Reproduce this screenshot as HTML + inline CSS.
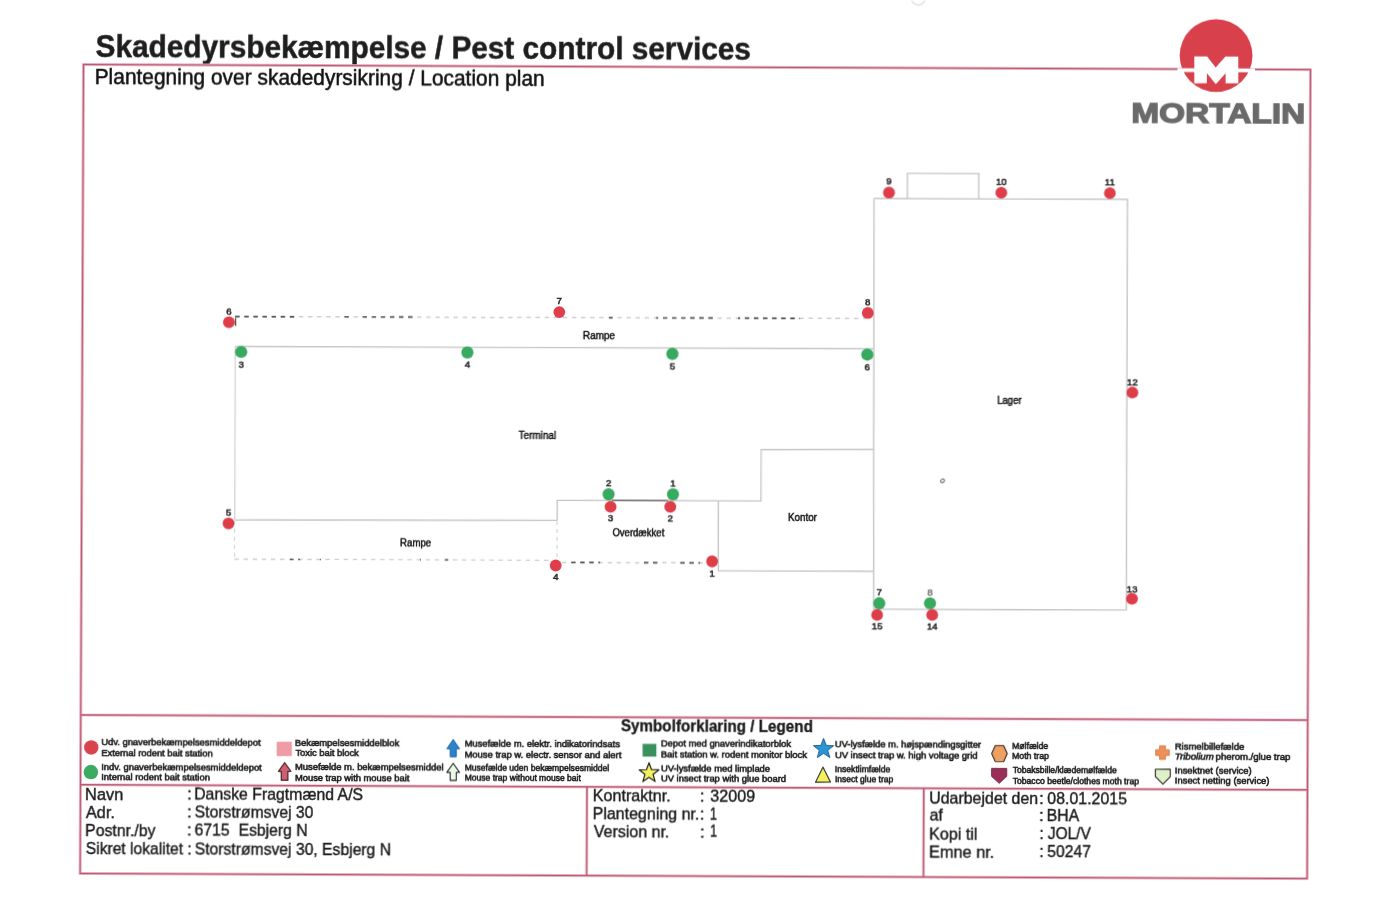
<!DOCTYPE html>
<html><head><meta charset="utf-8"><title>Skadedyrsbekæmpelse - Location plan</title>
<style>
html,body{margin:0;padding:0;background:#fff;}
body{width:1400px;height:909px;overflow:hidden;position:relative;}
#pg{position:absolute;left:0;top:0;width:1400px;height:909px;transform:rotate(0.24deg);transform-origin:83.5px 64.5px;will-change:transform;}
svg{position:absolute;left:0;top:0;overflow:visible;}
text{font-family:"Liberation Sans", sans-serif;}
</style></head>
<body><div id="pg"><svg width="1400" height="909" viewBox="0 0 1400 909">
<text x="95.61" y="57.15" font-size="32.0" font-weight="700" text-anchor="start" fill="#1e1e1e" textLength="655.28" lengthAdjust="spacingAndGlyphs" stroke="#1e1e1e" stroke-width="0.5">Skadedyrsbekæmpelse / Pest control services</text>
<text x="94.67" y="84.45" font-size="21.3" font-weight="400" text-anchor="start" fill="#111" textLength="450.07" lengthAdjust="spacingAndGlyphs" stroke="#111" stroke-width="0.5">Plantegning over skadedyrsikring / Location plan</text>
<rect x="83.5" y="64.5" width="1227.0" height="809.0" fill="none" stroke="#f8c6d2" stroke-width="2.9"/>
<line x1="83.5" y1="715.0" x2="1310.5" y2="715.0" stroke="#f8c6d2" stroke-width="2.9"/>
<line x1="83.5" y1="784.8" x2="1310.5" y2="784.8" stroke="#f8c6d2" stroke-width="2.9"/>
<line x1="590" y1="784.8" x2="590" y2="873.5" stroke="#f8c6d2" stroke-width="2.9"/>
<line x1="926.8" y1="784.8" x2="926.8" y2="873.5" stroke="#f8c6d2" stroke-width="2.9"/>
<rect x="83.5" y="64.5" width="1227.0" height="809.0" fill="none" stroke="#b65a72" stroke-width="1.5"/>
<line x1="83.5" y1="715.0" x2="1310.5" y2="715.0" stroke="#b65a72" stroke-width="1.5"/>
<line x1="83.5" y1="784.8" x2="1310.5" y2="784.8" stroke="#b65a72" stroke-width="1.5"/>
<line x1="590" y1="784.8" x2="590" y2="873.5" stroke="#b65a72" stroke-width="1.5"/>
<line x1="926.8" y1="784.8" x2="926.8" y2="873.5" stroke="#b65a72" stroke-width="1.5"/>
<circle cx="1216.05" cy="50.86" r="36.4" fill="#d8404c"/>
<rect x="1177.51" y="63.62" width="77.5" height="3.8" fill="#fff"/>
<polygon points="1194.26,51.85 1207.06,51.79 1215.7,62.66 1225.36,51.72 1238.26,51.66 1238.37,78.46 1225.67,78.52 1225.63,68.42 1215.87,79.46 1206.93,68.49 1206.97,78.59 1194.37,78.65" fill="#fff" stroke="none" stroke-width="1" stroke-linejoin="round"/>
<text x="1131.43" y="118.41" font-size="28.3" font-weight="700" text-anchor="start" fill="#6a6a6a" textLength="174.03" lengthAdjust="spacingAndGlyphs" stroke="#6a6a6a" stroke-width="1.3">MORTALIN</text>
<line x1="236.48" y1="345.76" x2="874.88" y2="345.49" stroke="#c6c6c6" stroke-width="1.4"/>
<line x1="236.48" y1="345.76" x2="236.61" y2="519.36" stroke="#d2d2d2" stroke-width="1.3"/>
<line x1="236.61" y1="519.36" x2="559.11" y2="518.41" stroke="#c6c6c6" stroke-width="1.4"/>
<polyline points="559.11,518.41 559.12,498.41 762.82,498.06 762.81,446.76 875.21,446.29" fill="none" stroke="#c6c6c6" stroke-width="1.4" stroke-linejoin="miter"/>
<line x1="613.82" y1="498.28" x2="669.82" y2="498.25" stroke="#6e6e6e" stroke-width="1.5"/>
<polyline points="720.22,498.14 720.42,568.14 875.72,567.99" fill="none" stroke="#c6c6c6" stroke-width="1.4" stroke-linejoin="miter"/>
<polyline points="874.55,195.29 1128.06,195.03 1128.58,605.63 875.87,605.89 874.55,195.29" fill="none" stroke="#c6c6c6" stroke-width="1.4" stroke-linejoin="miter"/>
<polyline points="907.95,195.25 907.85,169.85 979.25,169.85 979.36,195.25" fill="none" stroke="#c6c6c6" stroke-width="1.4" stroke-linejoin="miter"/>
<line x1="236.25" y1="315.86" x2="867.06" y2="315.32" stroke="#cfcfcf" stroke-width="1.5" stroke-dasharray="4.4 4.7" stroke-dashoffset="0"/>
<line x1="236.25" y1="315.86" x2="296.05" y2="315.81" stroke="#555" stroke-width="1.7" stroke-dasharray="4.4 4.7" stroke-dashoffset="0"/>
<line x1="345.05" y1="315.77" x2="353.05" y2="315.76" stroke="#555" stroke-width="1.7" stroke-dasharray="4.4 4.7" stroke-dashoffset="108.8"/>
<line x1="363.05" y1="315.75" x2="414.06" y2="315.71" stroke="#555" stroke-width="1.7" stroke-dasharray="4.4 4.7" stroke-dashoffset="126.8"/>
<line x1="610.06" y1="315.54" x2="616.06" y2="315.54" stroke="#555" stroke-width="1.7" stroke-dasharray="4.4 4.7" stroke-dashoffset="373.8"/>
<line x1="657.06" y1="315.5" x2="718.06" y2="315.45" stroke="#555" stroke-width="1.7" stroke-dasharray="4.4 4.7" stroke-dashoffset="420.8"/>
<line x1="739.06" y1="315.43" x2="801.06" y2="315.38" stroke="#555" stroke-width="1.7" stroke-dasharray="4.4 4.7" stroke-dashoffset="502.8"/>
<line x1="832.06" y1="315.35" x2="837.06" y2="315.35" stroke="#555" stroke-width="1.7" stroke-dasharray="4.4 4.7" stroke-dashoffset="595.8"/>
<line x1="236.51" y1="520.36" x2="236.57" y2="558.36" stroke="#d6d6d6" stroke-width="1.2" stroke-dasharray="4 4" stroke-dashoffset="0"/>
<line x1="236.57" y1="558.46" x2="552.07" y2="558.34" stroke="#cfcfcf" stroke-width="1.4" stroke-dasharray="4.4 4.7" stroke-dashoffset="0"/>
<line x1="292.07" y1="558.44" x2="302.07" y2="558.44" stroke="#555" stroke-width="1.5999999999999999" stroke-dasharray="4.4 4.7" stroke-dashoffset="55.5"/>
<line x1="322.07" y1="558.43" x2="327.07" y2="558.43" stroke="#555" stroke-width="1.5999999999999999" stroke-dasharray="4.4 4.7" stroke-dashoffset="85.5"/>
<line x1="422.07" y1="558.39" x2="427.07" y2="558.39" stroke="#555" stroke-width="1.5999999999999999" stroke-dasharray="4.4 4.7" stroke-dashoffset="185.5"/>
<line x1="447.07" y1="558.38" x2="452.07" y2="558.38" stroke="#555" stroke-width="1.5999999999999999" stroke-dasharray="4.4 4.7" stroke-dashoffset="210.5"/>
<line x1="559.01" y1="519.01" x2="559.06" y2="555.01" stroke="#d6d6d6" stroke-width="1.2" stroke-dasharray="4 4" stroke-dashoffset="0"/>
<line x1="564.08" y1="560.49" x2="708.08" y2="560.29" stroke="#cfcfcf" stroke-width="1.5" stroke-dasharray="4.4 4.7" stroke-dashoffset="0"/>
<line x1="572.08" y1="560.48" x2="602.08" y2="560.44" stroke="#555" stroke-width="1.7" stroke-dasharray="4.4 4.7" stroke-dashoffset="8"/>
<line x1="642.08" y1="560.38" x2="662.08" y2="560.35" stroke="#555" stroke-width="1.7" stroke-dasharray="4.4 4.7" stroke-dashoffset="78"/>
<line x1="682.08" y1="560.32" x2="702.08" y2="560.3" stroke="#555" stroke-width="1.7" stroke-dasharray="4.4 4.7" stroke-dashoffset="118"/>
<line x1="236.66" y1="317.36" x2="236.69" y2="325.36" stroke="#333" stroke-width="1.1"/>
<circle cx="242.4" cy="351.24" r="6.1" fill="#37aa60"/>
<circle cx="468.6" cy="350.89" r="6.1" fill="#37aa60"/>
<circle cx="673.61" cy="351.33" r="6.1" fill="#37aa60"/>
<circle cx="868.51" cy="351.31" r="6.1" fill="#37aa60"/>
<circle cx="610.4" cy="492.1" r="6.1" fill="#37aa60"/>
<circle cx="674.8" cy="491.83" r="6.1" fill="#37aa60"/>
<circle cx="881.55" cy="599.96" r="6.1" fill="#37aa60"/>
<circle cx="932.25" cy="599.75" r="6.1" fill="#37aa60"/>
<circle cx="229.98" cy="321.69" r="5.9" fill="#de3e4a"/>
<circle cx="560.33" cy="310.1" r="5.9" fill="#de3e4a"/>
<circle cx="868.83" cy="309.71" r="5.9" fill="#de3e4a"/>
<circle cx="230.42" cy="522.79" r="5.9" fill="#de3e4a"/>
<circle cx="557.79" cy="563.52" r="5.9" fill="#de3e4a"/>
<circle cx="714.18" cy="558.76" r="5.9" fill="#de3e4a"/>
<circle cx="612.45" cy="504.69" r="5.9" fill="#de3e4a"/>
<circle cx="672.15" cy="504.44" r="5.9" fill="#de3e4a"/>
<circle cx="889.53" cy="189.22" r="5.9" fill="#de3e4a"/>
<circle cx="1001.83" cy="188.95" r="5.9" fill="#de3e4a"/>
<circle cx="1110.43" cy="188.9" r="5.9" fill="#de3e4a"/>
<circle cx="1133.77" cy="388.2" r="5.9" fill="#de3e4a"/>
<circle cx="1134.23" cy="594.3" r="5.9" fill="#de3e4a"/>
<circle cx="879.4" cy="611.67" r="5.9" fill="#de3e4a"/>
<circle cx="934.5" cy="611.44" r="5.9" fill="#de3e4a"/>
<text x="229.95" y="313.79" font-size="9.7" font-weight="400" text-anchor="middle" fill="#1c1c1c" stroke="#1c1c1c" stroke-width="0.5">6</text>
<text x="560.3" y="301.6" font-size="9.7" font-weight="400" text-anchor="middle" fill="#1c1c1c" stroke="#1c1c1c" stroke-width="0.5">7</text>
<text x="868.8" y="302.21" font-size="9.7" font-weight="400" text-anchor="middle" fill="#1c1c1c" stroke="#1c1c1c" stroke-width="0.5">8</text>
<text x="230.39" y="514.99" font-size="9.7" font-weight="400" text-anchor="middle" fill="#1c1c1c" stroke="#1c1c1c" stroke-width="0.5">5</text>
<text x="557.86" y="578.42" font-size="9.7" font-weight="400" text-anchor="middle" fill="#1c1c1c" stroke="#1c1c1c" stroke-width="0.5">4</text>
<text x="714.24" y="573.86" font-size="9.7" font-weight="400" text-anchor="middle" fill="#1c1c1c" stroke="#1c1c1c" stroke-width="0.5">1</text>
<text x="612.51" y="519.09" font-size="9.7" font-weight="400" text-anchor="middle" fill="#1c1c1c" stroke="#1c1c1c" stroke-width="0.5">3</text>
<text x="672.21" y="518.84" font-size="9.7" font-weight="400" text-anchor="middle" fill="#1c1c1c" stroke="#1c1c1c" stroke-width="0.5">2</text>
<text x="889.5" y="181.02" font-size="9.7" font-weight="400" text-anchor="middle" fill="#1c1c1c" stroke="#1c1c1c" stroke-width="0.5">9</text>
<text x="1001.8" y="181.15" font-size="9.7" font-weight="400" text-anchor="middle" fill="#1c1c1c" stroke="#1c1c1c" stroke-width="0.5">10</text>
<text x="1110.4" y="181.3" font-size="9.7" font-weight="400" text-anchor="middle" fill="#1c1c1c" stroke="#1c1c1c" stroke-width="0.5">11</text>
<text x="1133.73" y="380.8" font-size="9.7" font-weight="400" text-anchor="middle" fill="#1c1c1c" stroke="#1c1c1c" stroke-width="0.5">12</text>
<text x="1134.2" y="587.7" font-size="9.7" font-weight="400" text-anchor="middle" fill="#1c1c1c" stroke="#1c1c1c" stroke-width="0.5">13</text>
<text x="879.46" y="626.07" font-size="9.7" font-weight="400" text-anchor="middle" fill="#1c1c1c" stroke="#1c1c1c" stroke-width="0.5">15</text>
<text x="934.56" y="625.84" font-size="9.7" font-weight="400" text-anchor="middle" fill="#1c1c1c" stroke="#1c1c1c" stroke-width="0.5">14</text>
<text x="242.47" y="366.84" font-size="9.7" font-weight="400" text-anchor="middle" fill="#1c1c1c" stroke="#1c1c1c" stroke-width="0.5">3</text>
<text x="468.66" y="365.59" font-size="9.7" font-weight="400" text-anchor="middle" fill="#1c1c1c" stroke="#1c1c1c" stroke-width="0.5">4</text>
<text x="673.67" y="366.53" font-size="9.7" font-weight="400" text-anchor="middle" fill="#1c1c1c" stroke="#1c1c1c" stroke-width="0.5">5</text>
<text x="868.57" y="366.71" font-size="9.7" font-weight="400" text-anchor="middle" fill="#1c1c1c" stroke="#1c1c1c" stroke-width="0.5">6</text>
<text x="610.36" y="484.4" font-size="9.7" font-weight="400" text-anchor="middle" fill="#1c1c1c" stroke="#1c1c1c" stroke-width="0.5">2</text>
<text x="674.76" y="484.13" font-size="9.7" font-weight="400" text-anchor="middle" fill="#1c1c1c" stroke="#1c1c1c" stroke-width="0.5">1</text>
<text x="881.52" y="591.86" font-size="9.7" font-weight="400" text-anchor="middle" fill="#1c1c1c" stroke="#1c1c1c" stroke-width="0.5">7</text>
<text x="932.22" y="591.65" font-size="9.7" font-weight="400" text-anchor="middle" fill="#777" stroke="#777" stroke-width="0.5">8</text>
<text x="584.03" y="336.71" font-size="10.3" font-weight="400" text-anchor="start" fill="#111" textLength="32.16" lengthAdjust="spacingAndGlyphs" stroke="#111" stroke-width="0.45">Rampe</text>
<text x="520.35" y="436.87" font-size="10.3" font-weight="400" text-anchor="start" fill="#111" textLength="37.26" lengthAdjust="spacingAndGlyphs" stroke="#111" stroke-width="0.45">Terminal</text>
<text x="402.12" y="544.57" font-size="10.3" font-weight="400" text-anchor="start" fill="#111" textLength="31.02" lengthAdjust="spacingAndGlyphs" stroke="#111" stroke-width="0.45">Rampe</text>
<text x="614.42" y="534.08" font-size="10.3" font-weight="400" text-anchor="start" fill="#111" textLength="51.92" lengthAdjust="spacingAndGlyphs" stroke="#111" stroke-width="0.45">Overdækket</text>
<text x="790.11" y="518.24" font-size="10.3" font-weight="400" text-anchor="start" fill="#111" textLength="28.76" lengthAdjust="spacingAndGlyphs" stroke="#111" stroke-width="0.45">Kontor</text>
<text x="998.42" y="400.17" font-size="10.3" font-weight="400" text-anchor="start" fill="#111" textLength="24.65" lengthAdjust="spacingAndGlyphs" stroke="#111" stroke-width="0.45">Lager</text>
<ellipse cx="944.34" cy="477.2" rx="2.1" ry="1.6" transform="rotate(-35 944.34 477.2)" fill="none" stroke="#666" stroke-width="1"/>
<path d="M911.23 -2.67 Q917.96 6 924.73 -2.72" fill="none" stroke="#e4e4e4" stroke-width="1.6"/>
<text x="623.65" y="729.34" font-size="16.4" font-weight="700" text-anchor="start" fill="#1c1c1c" textLength="192.04" lengthAdjust="spacingAndGlyphs" stroke="#1c1c1c" stroke-width="0.35">Symbolforklaring / Legend</text>
<text x="104.23" y="745.22" font-size="9.5" font-weight="400" text-anchor="start" fill="#1c1c1c" textLength="159.39" lengthAdjust="spacingAndGlyphs" stroke="#1c1c1c" stroke-width="0.6">Udv. gnaverbekæmpelsesmiddeldepot</text>
<text x="104.23" y="755.62" font-size="9.5" font-weight="400" text-anchor="start" fill="#1c1c1c" textLength="111.38" lengthAdjust="spacingAndGlyphs" stroke="#1c1c1c" stroke-width="0.6">External rodent bait station</text>
<text x="104.19" y="769.92" font-size="9.5" font-weight="400" text-anchor="start" fill="#1c1c1c" textLength="160.53" lengthAdjust="spacingAndGlyphs" stroke="#1c1c1c" stroke-width="0.6">Indv. gnaverbekæmpelsesmiddeldepot</text>
<text x="104.23" y="780.32" font-size="9.5" font-weight="400" text-anchor="start" fill="#1c1c1c" textLength="108.68" lengthAdjust="spacingAndGlyphs" stroke="#1c1c1c" stroke-width="0.6">Internal rodent bait station</text>
<text x="297.78" y="744.81" font-size="9.5" font-weight="400" text-anchor="start" fill="#1c1c1c" textLength="104.36" lengthAdjust="spacingAndGlyphs" stroke="#1c1c1c" stroke-width="0.6">Bekæmpelsesmiddelblok</text>
<text x="298.39" y="755.21" font-size="9.5" font-weight="400" text-anchor="start" fill="#1c1c1c" textLength="63.39" lengthAdjust="spacingAndGlyphs" stroke="#1c1c1c" stroke-width="0.6">Toxic bait block</text>
<text x="297.88" y="769.11" font-size="9.5" font-weight="400" text-anchor="start" fill="#1c1c1c" textLength="148.6" lengthAdjust="spacingAndGlyphs" stroke="#1c1c1c" stroke-width="0.6">Musefælde m. bekæmpelsesmiddel</text>
<text x="297.93" y="779.51" font-size="9.5" font-weight="400" text-anchor="start" fill="#1c1c1c" textLength="114.44" lengthAdjust="spacingAndGlyphs" stroke="#1c1c1c" stroke-width="0.6">Mouse trap with mouse bait</text>
<text x="467.48" y="744.9" font-size="9.5" font-weight="400" text-anchor="start" fill="#1c1c1c" textLength="155.41" lengthAdjust="spacingAndGlyphs" stroke="#1c1c1c" stroke-width="0.6">Musefælde m. elektr. indikatorindsats</text>
<text x="467.53" y="755.5" font-size="9.5" font-weight="400" text-anchor="start" fill="#1c1c1c" textLength="156.74" lengthAdjust="spacingAndGlyphs" stroke="#1c1c1c" stroke-width="0.6">Mouse trap w. electr. sensor and alert</text>
<text x="467.65" y="768.5" font-size="9.5" font-weight="400" text-anchor="start" fill="#1c1c1c" textLength="144.47" lengthAdjust="spacingAndGlyphs" stroke="#1c1c1c" stroke-width="0.6">Musefælde uden bekæmpelsesmiddel</text>
<text x="467.7" y="779.4" font-size="9.5" font-weight="400" text-anchor="start" fill="#1c1c1c" textLength="116.16" lengthAdjust="spacingAndGlyphs" stroke="#1c1c1c" stroke-width="0.6">Mouse trap without mouse bait</text>
<text x="663.78" y="744.28" font-size="9.5" font-weight="400" text-anchor="start" fill="#1c1c1c" textLength="130.16" lengthAdjust="spacingAndGlyphs" stroke="#1c1c1c" stroke-width="0.6">Depot med gnaverindikatorblok</text>
<text x="663.83" y="755.18" font-size="9.5" font-weight="400" text-anchor="start" fill="#1c1c1c" textLength="146.16" lengthAdjust="spacingAndGlyphs" stroke="#1c1c1c" stroke-width="0.6">Bait station w. rodent monitor block</text>
<text x="663.93" y="768.57" font-size="9.5" font-weight="400" text-anchor="start" fill="#1c1c1c" textLength="109.14" lengthAdjust="spacingAndGlyphs" stroke="#1c1c1c" stroke-width="0.6">UV-lysfælde med limplade</text>
<text x="663.98" y="779.47" font-size="9.5" font-weight="400" text-anchor="start" fill="#1c1c1c" textLength="125.03" lengthAdjust="spacingAndGlyphs" stroke="#1c1c1c" stroke-width="0.6">UV insect trap with glue board</text>
<text x="837.83" y="744.45" font-size="9.5" font-weight="400" text-anchor="start" fill="#1c1c1c" textLength="146.18" lengthAdjust="spacingAndGlyphs" stroke="#1c1c1c" stroke-width="0.6">UV-lysfælde m. højspændingsgitter</text>
<text x="837.88" y="755.45" font-size="9.5" font-weight="400" text-anchor="start" fill="#1c1c1c" textLength="142.73" lengthAdjust="spacingAndGlyphs" stroke="#1c1c1c" stroke-width="0.6">UV insect trap w. high voltage grid</text>
<text x="837.86" y="768.75" font-size="9.5" font-weight="400" text-anchor="start" fill="#1c1c1c" textLength="55.48" lengthAdjust="spacingAndGlyphs" stroke="#1c1c1c" stroke-width="0.6">Insektlimfælde</text>
<text x="837.91" y="779.25" font-size="9.5" font-weight="400" text-anchor="start" fill="#1c1c1c" textLength="58.35" lengthAdjust="spacingAndGlyphs" stroke="#1c1c1c" stroke-width="0.6">Insect glue trap</text>
<text x="1015.05" y="744.7" font-size="9.5" font-weight="400" text-anchor="start" fill="#1c1c1c" textLength="36.1" lengthAdjust="spacingAndGlyphs" stroke="#1c1c1c" stroke-width="0.6">Mølfælde</text>
<text x="1015.09" y="755.4" font-size="9.5" font-weight="400" text-anchor="start" fill="#1c1c1c" textLength="36.78" lengthAdjust="spacingAndGlyphs" stroke="#1c1c1c" stroke-width="0.6">Moth trap</text>
<text x="1015.67" y="769" font-size="9.5" font-weight="400" text-anchor="start" fill="#1c1c1c" textLength="104.07" lengthAdjust="spacingAndGlyphs" stroke="#1c1c1c" stroke-width="0.6">Tobaksbille/klædemølfælde</text>
<text x="1015.71" y="779.7" font-size="9.5" font-weight="400" text-anchor="start" fill="#1c1c1c" textLength="126.25" lengthAdjust="spacingAndGlyphs" stroke="#1c1c1c" stroke-width="0.6">Tobacco beetle/clothes moth trap</text>
<text x="1177.78" y="744.72" font-size="9.5" font-weight="400" text-anchor="start" fill="#1c1c1c" textLength="69.4" lengthAdjust="spacingAndGlyphs" stroke="#1c1c1c" stroke-width="0.6">Rismelbillefælde</text>
<text x="1218.59" y="755.15" font-size="9.5" font-weight="400" text-anchor="start" fill="#1c1c1c" textLength="74.71" lengthAdjust="spacingAndGlyphs" stroke="#1c1c1c" stroke-width="0.6">pherom./glue trap</text>
<text x="1177.79" y="769.32" font-size="9.5" font-weight="400" text-anchor="start" fill="#1c1c1c" textLength="76.85" lengthAdjust="spacingAndGlyphs" stroke="#1c1c1c" stroke-width="0.6">Insektnet (service)</text>
<text x="1177.83" y="779.02" font-size="9.5" font-weight="400" text-anchor="start" fill="#1c1c1c" textLength="94.65" lengthAdjust="spacingAndGlyphs" stroke="#1c1c1c" stroke-width="0.6">Insect netting (service)</text>
<text x="1177.75" y="755.32" font-size="9.5" font-weight="400" text-anchor="start" fill="#1c1c1c" textLength="38.99" lengthAdjust="spacingAndGlyphs" font-style="italic" stroke="#1c1c1c" stroke-width="0.6">Tribolium</text>
<circle cx="94.16" cy="747.46" r="7.2" fill="#d8434c"/>
<circle cx="93.86" cy="772.06" r="7.3" fill="#3daa62"/>
<polygon points="279.94,741.28 294.24,741.22 294.29,754.82 279.99,754.88" fill="#f09ca6" stroke="#e08a95" stroke-width="0.6" stroke-linejoin="round"/>
<polygon points="287.62,761.75 293.96,770.52 290.86,770.54 290.9,779.44 284.3,779.47 284.26,770.57 281.36,770.58" fill="#cc6070" stroke="#4a2028" stroke-width="1.2" stroke-linejoin="round"/>
<polygon points="456.02,737.85 462.46,747.22 459.16,747.23 459.2,755.23 453.1,755.26 453.06,747.26 449.66,747.27" fill="#2a82cc" stroke="#1f5f98" stroke-width="0.9" stroke-linejoin="round"/>
<polygon points="456.12,761.75 462.56,770.82 459.26,770.83 459.3,778.83 453.2,778.86 453.16,770.86 449.76,770.87" fill="#eaf8e6" stroke="#2a2a2a" stroke-width="1.1" stroke-linejoin="round"/>
<polygon points="645.44,741.55 659.24,741.49 659.29,754.29 645.49,754.35" fill="#3a915e" stroke="none" stroke-width="1" stroke-linejoin="round"/>
<polygon points="651.92,760.33 654.48,767.24 661.84,767.47 656.06,772.04 658.11,779.11 651.98,775.02 645.89,779.16 647.88,772.07 642.06,767.55 649.42,767.26" fill="#f2f060" stroke="#222" stroke-width="1.2" stroke-linejoin="round"/>
<polygon points="826.42,735.29 829.03,742.32 836.53,742.58 830.65,747.24 832.73,754.44 826.48,750.29 820.27,754.5 822.28,747.27 816.37,742.66 823.86,742.35" fill="#2b96d6" stroke="#1d5a8a" stroke-width="1.0" stroke-linejoin="round"/>
<polygon points="825.94,764.1 833.5,779.06 818.5,779.13" fill="#f4f060" stroke="#2a2a2a" stroke-width="1.1" stroke-linejoin="round"/>
<polygon points="998.14,741.77 1006.54,741.74 1010.18,749.72 1006.61,757.74 998.21,757.77 994.58,749.79" fill="#eea062" stroke="#3a2a22" stroke-width="1.1" stroke-linejoin="round"/>
<polygon points="994.44,764.59 1009.74,764.53 1009.77,772.53 1002.2,779.46 994.47,772.59" fill="#98305a" stroke="#6e2240" stroke-width="0.8" stroke-linejoin="round"/>
<polygon points="1162.44,741.29 1168.24,741.26 1168.26,745.16 1172.16,745.15 1172.18,750.95 1168.28,750.96 1168.3,754.86 1162.5,754.89 1162.49,750.99 1158.59,751 1158.56,745.2 1162.46,745.19" fill="#ee9056" stroke="#c87040" stroke-width="0.8" stroke-linejoin="round"/>
<polygon points="1158.34,764.7 1173.24,764.64 1173.27,772.14 1165.91,779.67 1158.37,772.2" fill="#def0c6" stroke="#2a2a2a" stroke-width="1.1" stroke-linejoin="round"/>
<text x="88.13" y="799.89" font-size="16.3" font-weight="400" text-anchor="start" fill="#1c1c1c" textLength="38.31" lengthAdjust="spacingAndGlyphs" stroke="#1c1c1c" stroke-width="0.4">Navn</text>
<text x="88.92" y="817.78" font-size="16.3" font-weight="400" text-anchor="start" fill="#1c1c1c" textLength="29.18" lengthAdjust="spacingAndGlyphs" stroke="#1c1c1c" stroke-width="0.4">Adr.</text>
<text x="88.35" y="835.69" font-size="16.3" font-weight="400" text-anchor="start" fill="#1c1c1c" textLength="70.31" lengthAdjust="spacingAndGlyphs" stroke="#1c1c1c" stroke-width="0.4">Postnr./by</text>
<text x="89" y="853.98" font-size="16.3" font-weight="400" text-anchor="start" fill="#1c1c1c" textLength="97.32" lengthAdjust="spacingAndGlyphs" stroke="#1c1c1c" stroke-width="0.4">Sikret lokalitet</text>
<text x="197.19" y="799.43" font-size="16.3" font-weight="400" text-anchor="start" fill="#1c1c1c" textLength="168.91" lengthAdjust="spacingAndGlyphs" stroke="#1c1c1c" stroke-width="0.4">Danske Fragtmænd A/S</text>
<text x="197.84" y="817.03" font-size="16.3" font-weight="400" text-anchor="start" fill="#1c1c1c" textLength="118.63" lengthAdjust="spacingAndGlyphs" stroke="#1c1c1c" stroke-width="0.4">Storstrømsvej 30</text>
<text x="197.83" y="835.23" font-size="16.3" font-weight="400" text-anchor="start" fill="#1c1c1c" textLength="112.98" lengthAdjust="spacingAndGlyphs" stroke="#1c1c1c" stroke-width="0.4">6715  Esbjerg N</text>
<text x="197.99" y="853.53" font-size="16.3" font-weight="400" text-anchor="start" fill="#1c1c1c" textLength="196.29" lengthAdjust="spacingAndGlyphs" stroke="#1c1c1c" stroke-width="0.4">Storstrømsvej 30, Esbjerg N</text>
<text x="595.67" y="799.26" font-size="16.3" font-weight="400" text-anchor="start" fill="#1c1c1c" textLength="78.17" lengthAdjust="spacingAndGlyphs" stroke="#1c1c1c" stroke-width="0.4">Kontraktnr.</text>
<text x="595.76" y="817.16" font-size="16.3" font-weight="400" text-anchor="start" fill="#1c1c1c" textLength="106.75" lengthAdjust="spacingAndGlyphs" stroke="#1c1c1c" stroke-width="0.4">Plantegning nr.</text>
<text x="597.06" y="834.96" font-size="16.3" font-weight="400" text-anchor="start" fill="#1c1c1c" textLength="75.49" lengthAdjust="spacingAndGlyphs" stroke="#1c1c1c" stroke-width="0.4">Version nr.</text>
<text x="713.17" y="798.77" font-size="16.3" font-weight="400" text-anchor="start" fill="#1c1c1c" textLength="44.98" lengthAdjust="spacingAndGlyphs" stroke="#1c1c1c" stroke-width="0.4">32009</text>
<text x="713.08" y="816.67" font-size="16.3" font-weight="400" text-anchor="start" fill="#1c1c1c" textLength="7.09" lengthAdjust="spacingAndGlyphs" stroke="#1c1c1c" stroke-width="0.4">1</text>
<text x="713.16" y="834.47" font-size="16.3" font-weight="400" text-anchor="start" fill="#1c1c1c" textLength="7.09" lengthAdjust="spacingAndGlyphs" stroke="#1c1c1c" stroke-width="0.4">1</text>
<text x="932.16" y="800.05" font-size="16.3" font-weight="400" text-anchor="start" fill="#1c1c1c" textLength="109.07" lengthAdjust="spacingAndGlyphs" stroke="#1c1c1c" stroke-width="0.4">Udarbejdet den</text>
<text x="932.79" y="817.45" font-size="16.3" font-weight="400" text-anchor="start" fill="#1c1c1c" textLength="13.25" lengthAdjust="spacingAndGlyphs" stroke="#1c1c1c" stroke-width="0.4">af</text>
<text x="932.21" y="835.75" font-size="16.3" font-weight="400" text-anchor="start" fill="#1c1c1c" textLength="48.51" lengthAdjust="spacingAndGlyphs" stroke="#1c1c1c" stroke-width="0.4">Kopi til</text>
<text x="932.29" y="853.55" font-size="16.3" font-weight="400" text-anchor="start" fill="#1c1c1c" textLength="65.39" lengthAdjust="spacingAndGlyphs" stroke="#1c1c1c" stroke-width="0.4">Emne nr.</text>
<text x="1050.37" y="799.56" font-size="16.3" font-weight="400" text-anchor="start" fill="#1c1c1c" textLength="79.69" lengthAdjust="spacingAndGlyphs" stroke="#1c1c1c" stroke-width="0.4">08.01.2015</text>
<text x="1049.75" y="816.96" font-size="16.3" font-weight="400" text-anchor="start" fill="#1c1c1c" textLength="32.74" lengthAdjust="spacingAndGlyphs" stroke="#1c1c1c" stroke-width="0.4">BHA</text>
<text x="1050.89" y="835.25" font-size="16.3" font-weight="400" text-anchor="start" fill="#1c1c1c" textLength="43.11" lengthAdjust="spacingAndGlyphs" stroke="#1c1c1c" stroke-width="0.4">JOL/V</text>
<text x="1050.59" y="853.06" font-size="16.3" font-weight="400" text-anchor="start" fill="#1c1c1c" textLength="43.51" lengthAdjust="spacingAndGlyphs" stroke="#1c1c1c" stroke-width="0.4">50247</text>
<text x="190.19" y="799.46" font-size="16.3" font-weight="400" text-anchor="start" fill="#1c1c1c" stroke="#1c1c1c" stroke-width="0.4">:</text>
<text x="190.26" y="817.06" font-size="16.3" font-weight="400" text-anchor="start" fill="#1c1c1c" stroke="#1c1c1c" stroke-width="0.4">:</text>
<text x="190.34" y="835.26" font-size="16.3" font-weight="400" text-anchor="start" fill="#1c1c1c" stroke="#1c1c1c" stroke-width="0.4">:</text>
<text x="190.42" y="853.56" font-size="16.3" font-weight="400" text-anchor="start" fill="#1c1c1c" stroke="#1c1c1c" stroke-width="0.4">:</text>
<text x="702.99" y="798.81" font-size="16.3" font-weight="400" text-anchor="start" fill="#1c1c1c" stroke="#1c1c1c" stroke-width="0.4">:</text>
<text x="703.07" y="816.71" font-size="16.3" font-weight="400" text-anchor="start" fill="#1c1c1c" stroke="#1c1c1c" stroke-width="0.4">:</text>
<text x="703.14" y="834.51" font-size="16.3" font-weight="400" text-anchor="start" fill="#1c1c1c" stroke="#1c1c1c" stroke-width="0.4">:</text>
<text x="1042.3" y="799.59" font-size="16.3" font-weight="400" text-anchor="start" fill="#1c1c1c" stroke="#1c1c1c" stroke-width="0.4">:</text>
<text x="1042.37" y="816.99" font-size="16.3" font-weight="400" text-anchor="start" fill="#1c1c1c" stroke="#1c1c1c" stroke-width="0.4">:</text>
<text x="1042.45" y="835.29" font-size="16.3" font-weight="400" text-anchor="start" fill="#1c1c1c" stroke="#1c1c1c" stroke-width="0.4">:</text>
<text x="1042.52" y="853.09" font-size="16.3" font-weight="400" text-anchor="start" fill="#1c1c1c" stroke="#1c1c1c" stroke-width="0.4">:</text>
</svg></div></body></html>
